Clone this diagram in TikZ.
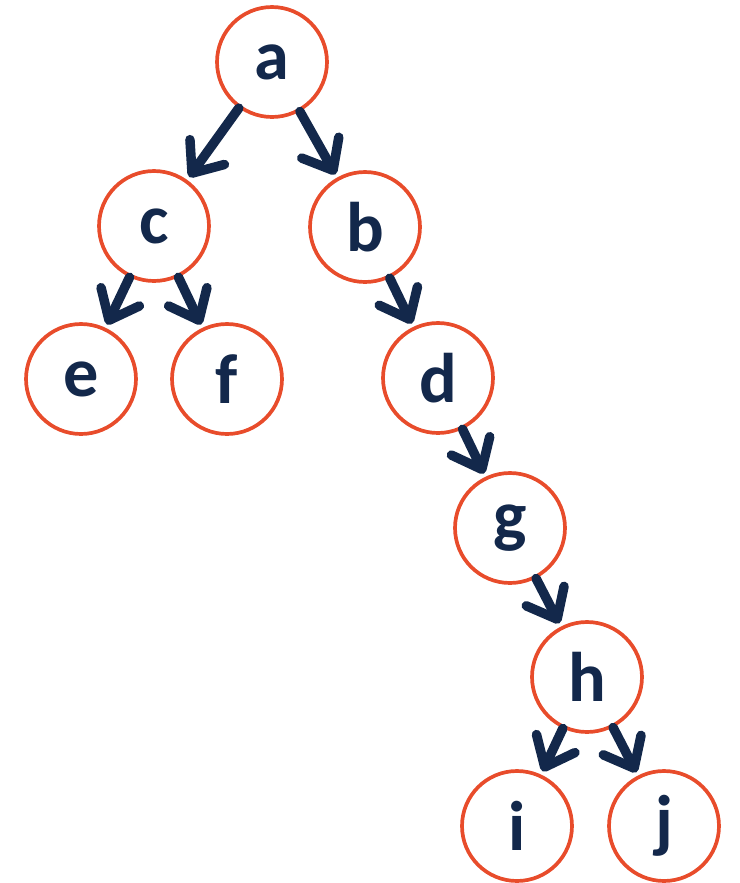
\documentclass[tikz,border=0pt]{standalone}
\usepackage{fontspec}
\setmainfont{Carlito}
\usepackage{tikz}
\usetikzlibrary{arrows.meta}
\definecolor{treered}{RGB}{232, 76, 43}
\definecolor{treenavy}{RGB}{19, 40, 75}

\tikzset{
  treenode/.style={circle, draw=treered, line width=2.1pt, minimum size=2.2cm, inner sep=0pt,
    text=treenavy, font=\fontsize{40}{40}\selectfont\bfseries},
  treearrow/.style={draw=treenavy, line width=5.4pt, line cap=round,
    -{Straight Barb[length=0.52cm,width=0.85cm,round]}, shorten >=2pt}
}

\begin{document}
\begin{tikzpicture}[x=0.02cm,y=-0.02cm]
\useasboundingbox (0,0) rectangle (740,883);

\node[treenode] (a) at (272,62) {a};
\node[treenode] (c) at (154,226) {c};
\node[treenode] (b) at (365,227) {b};
\node[treenode] (e) at (81,379) {e};
\node[treenode] (f) at (227,379) {f};
\node[treenode] (d) at (438,378) {d};
\node[treenode] (g) at (510,528) {g};
\node[treenode] (h) at (587,677) {h};
\node[treenode] (i) at (517,826) {i};
\node[treenode] (j) at (664,826) {j};

\draw[treearrow] (a) -- (c);
\draw[treearrow] (a) -- (b);
\draw[treearrow] (c) -- (e);
\draw[treearrow] (c) -- (f);
\draw[treearrow] (b) -- (d);
\draw[treearrow] (d) -- (g);
\draw[treearrow] (g) -- (h);
\draw[treearrow] (h) -- (i);
\draw[treearrow] (h) -- (j);
\end{tikzpicture}
\end{document}
